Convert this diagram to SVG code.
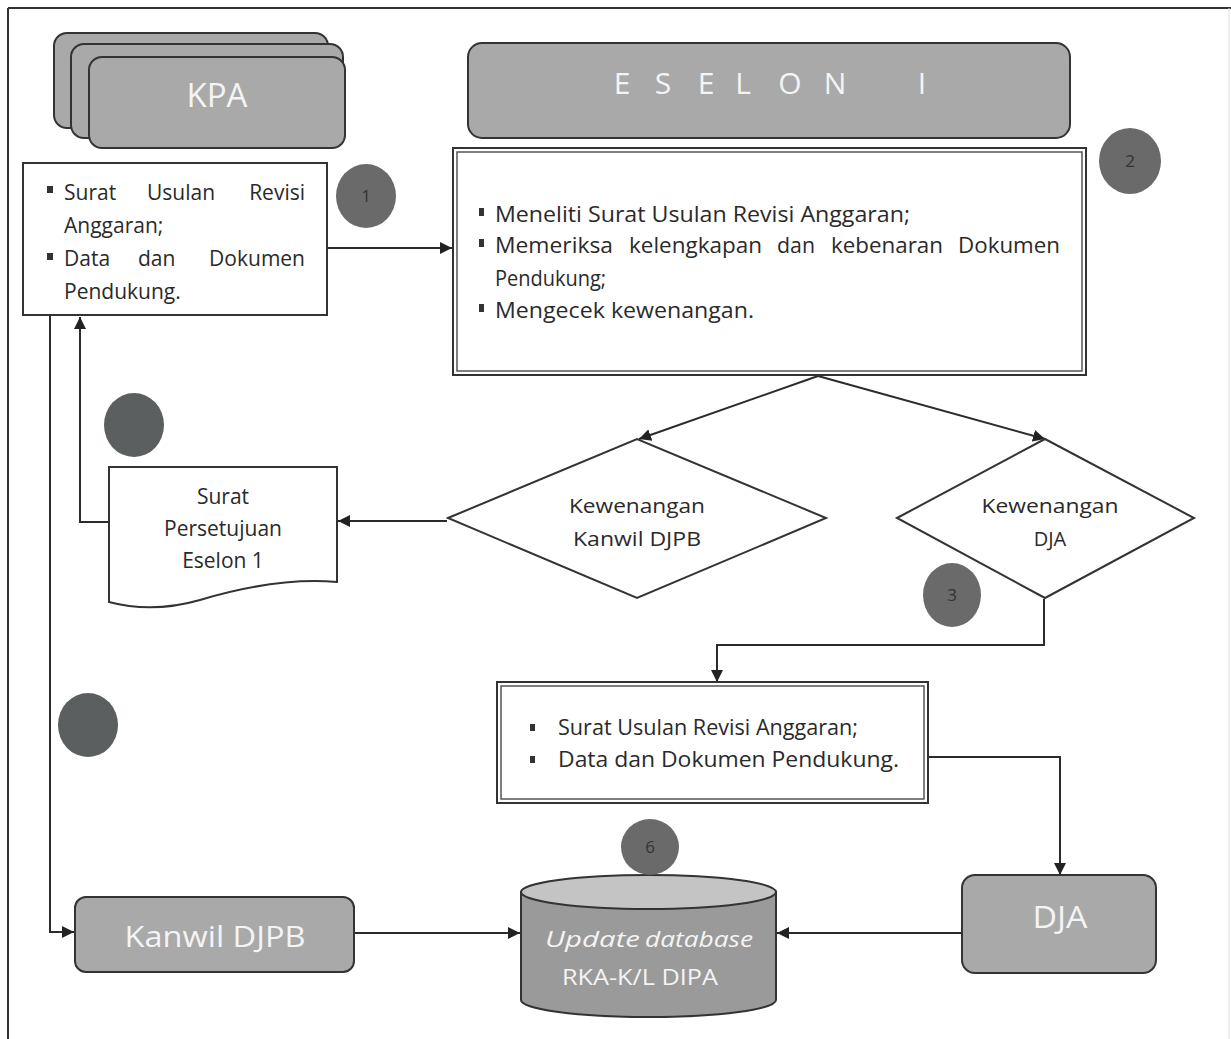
<svg xmlns="http://www.w3.org/2000/svg" width="1231" height="1039" viewBox="0 0 1231 1039">
<style>
.ln{fill:none;stroke:#2b2b2b;stroke-width:2}
.box{fill:#fff;stroke:#333;stroke-width:2}
.gray{fill:#a9a9a9;stroke:#333;stroke-width:2}
.t{font-family:"Open Sans","Liberation Sans",sans-serif;fill:#2a2a2a}
.w{font-family:"Open Sans","Liberation Sans",sans-serif;fill:#f4f4f4}
.badge{fill:#6a6a6a}
.dark{fill:#5b5f5f}
.bt{font-family:"Open Sans","Liberation Sans",sans-serif;fill:#333;font-size:17px;text-anchor:middle}
.bul{fill:#333}
</style>
<defs>
<marker id="ah" viewBox="0 0 10 10" refX="10" refY="5" markerWidth="12" markerHeight="12" markerUnits="userSpaceOnUse" orient="auto">
<path d="M0,0 L10,5 L0,10 Z" fill="#222"/>
</marker>
</defs>
<rect width="1231" height="1039" fill="#fff"/>
<g id="frame">
<line x1="8" y1="8" x2="1231" y2="8" stroke="#333" stroke-width="2"/>
<line x1="8" y1="8" x2="8" y2="1039" stroke="#333" stroke-width="2"/>
<line x1="1229" y1="8" x2="1229" y2="1039" stroke="#ddd" stroke-width="1"/>
</g>
<g id="connectors">
<line class="ln" x1="327" y1="248" x2="452" y2="248" marker-end="url(#ah)"/>
<line class="ln" x1="818" y1="376" x2="639" y2="439" marker-end="url(#ah)"/>
<line class="ln" x1="818" y1="376" x2="1045" y2="439" marker-end="url(#ah)"/>
<line class="ln" x1="447" y1="521" x2="338" y2="521" marker-end="url(#ah)"/>
<polyline class="ln" points="109,522 80,522 80,317" marker-end="url(#ah)"/>
<polyline class="ln" points="50,316 50,932 74,932" marker-end="url(#ah)"/>
<polyline class="ln" points="1044,599 1044,645 717,645 717,682" marker-end="url(#ah)"/>
<polyline class="ln" points="928,757 1060,757 1060,875" marker-end="url(#ah)"/>
<line class="ln" x1="354" y1="933" x2="520" y2="933" marker-end="url(#ah)"/>
<line class="ln" x1="962" y1="933" x2="777" y2="933" marker-end="url(#ah)"/>
</g>
<g id="kpa">
<rect class="gray" x="54" y="33" width="274" height="95" rx="13"/>
<rect class="gray" x="71" y="44" width="272" height="94" rx="13"/>
<rect class="gray" x="89" y="57" width="256" height="91" rx="13"/>
<text class="w" x="217" y="107" font-size="33" text-anchor="middle">KPA</text>
</g>
<g id="eselon">
<rect class="gray" x="468" y="43" width="602" height="95" rx="14"/>
<g class="w" font-size="30" text-anchor="middle" fill="#ececec">
<text x="622" y="94">E</text><text x="663" y="94">S</text><text x="706" y="94">E</text><text x="743" y="94">L</text><text x="790" y="94">O</text><text x="835" y="94">N</text><text x="922" y="94">I</text>
</g>
</g>
<g id="box1">
<rect class="box" x="23" y="163" width="304" height="152"/>
<rect class="bul" x="47" y="186" width="6" height="7"/>
<rect class="bul" x="47" y="253" width="6" height="7"/>
<g class="t" font-size="21">
<text x="64" y="200">Surat</text><text x="147" y="200">Usulan</text><text x="305" y="200" text-anchor="end">Revisi</text>
<text x="64" y="233">Anggaran;</text>
<text x="64" y="266">Data</text><text x="138" y="266">dan</text><text x="305" y="266" text-anchor="end">Dokumen</text>
<text x="64" y="299">Pendukung.</text>
</g>
</g>
<g id="badge1">
<ellipse class="badge" cx="366" cy="196" rx="30" ry="32"/>
<text class="bt" x="366" y="202">1</text>
</g>
<g id="box2">
<rect class="box" x="453" y="148" width="633" height="227"/>
<rect fill="none" stroke="#555" stroke-width="1.5" x="457" y="152" width="625" height="219"/>
<rect class="bul" x="479" y="208" width="5" height="8"/>
<rect class="bul" x="479" y="239" width="5" height="8"/>
<rect class="bul" x="479" y="304" width="5" height="8"/>
<g class="t" font-size="21">
<text x="495" y="222" textLength="415" lengthAdjust="spacingAndGlyphs">Meneliti Surat Usulan Revisi Anggaran;</text>
<text x="495" y="253" textLength="118" lengthAdjust="spacingAndGlyphs">Memeriksa</text>
<text x="629" y="253" textLength="133" lengthAdjust="spacingAndGlyphs">kelengkapan</text>
<text x="777" y="253" textLength="38" lengthAdjust="spacingAndGlyphs">dan</text>
<text x="831" y="253" textLength="112" lengthAdjust="spacingAndGlyphs">kebenaran</text>
<text x="958" y="253" textLength="102" lengthAdjust="spacingAndGlyphs">Dokumen</text>
<text x="495" y="286" textLength="111" lengthAdjust="spacingAndGlyphs">Pendukung;</text>
<text x="495" y="318" textLength="259" lengthAdjust="spacingAndGlyphs">Mengecek kewenangan.</text>
</g>
</g>
<g id="badge2">
<ellipse class="badge" cx="1130" cy="161" rx="31" ry="33"/>
<text class="bt" x="1130" y="167">2</text>
</g>
<g id="diamond-kanwil">
<polygon class="box" points="448,518 637,439 826,518 637,598"/>
<text class="t" x="637" y="513" font-size="20" text-anchor="middle" fill="#444" textLength="136" lengthAdjust="spacingAndGlyphs">Kewenangan</text>
<text class="t" x="637" y="546" font-size="20" text-anchor="middle" fill="#444" textLength="128" lengthAdjust="spacingAndGlyphs">Kanwil DJPB</text>
</g>
<g id="diamond-dja">
<polygon class="box" points="897,518 1045,439 1194,518 1045,598"/>
<text class="t" x="1050" y="513" font-size="20" text-anchor="middle" fill="#444" textLength="137" lengthAdjust="spacingAndGlyphs">Kewenangan</text>
<text class="t" x="1050" y="546" font-size="20" text-anchor="middle" fill="#444">DJA</text>
</g>
<g id="badge3">
<ellipse class="badge" cx="952" cy="595" rx="29" ry="32"/>
<text class="bt" x="952" y="601">3</text>
</g>
<g id="surat-persetujuan">
<path class="box" d="M109,467 H337 V582 C290,578 240,588 200,600 C165,610 135,609 109,602 Z"/>
<g class="t" font-size="21" text-anchor="middle" fill="#333">
<text x="223" y="504">Surat</text>
<text x="223" y="536">Persetujuan</text>
<text x="223" y="568">Eselon 1</text>
</g>
</g>
<g id="badge4">
<ellipse class="dark" cx="134" cy="425" rx="30" ry="32"/>
</g>
<g id="badge5">
<ellipse class="dark" cx="88" cy="725" rx="30" ry="32"/>
</g>
<g id="box3">
<rect class="box" x="497" y="682" width="431" height="121"/>
<rect fill="none" stroke="#555" stroke-width="1.5" x="501" y="686" width="423" height="113"/>
<rect class="bul" x="530" y="724" width="5" height="7"/>
<rect class="bul" x="530" y="756" width="5" height="7"/>
<g class="t" font-size="21">
<text x="558" y="735" textLength="300" lengthAdjust="spacingAndGlyphs">Surat Usulan Revisi Anggaran;</text>
<text x="558" y="767" textLength="341" lengthAdjust="spacingAndGlyphs">Data dan Dokumen Pendukung.</text>
</g>
</g>
<g id="kanwil-djpb">
<rect class="gray" x="75" y="897" width="279" height="75" rx="11" fill="#9c9c9c"/>
<text class="w" x="215" y="947" font-size="30" text-anchor="middle" textLength="181" lengthAdjust="spacingAndGlyphs">Kanwil DJPB</text>
</g>
<g id="dja">
<rect class="gray" x="962" y="875" width="194" height="98" rx="13"/>
<text class="w" x="1060" y="928" font-size="31" text-anchor="middle" textLength="55" lengthAdjust="spacingAndGlyphs">DJA</text>
</g>
<g id="database">
<path d="M521,892 V1000 A127.5,17 0 0 0 776,1000 V892 Z" fill="#9a9a9a" stroke="#333" stroke-width="2"/>
<ellipse cx="648.5" cy="892" rx="127.5" ry="17" fill="#c4c4c4" stroke="#333" stroke-width="2"/>
<text class="w" x="545" y="947" font-size="22" font-style="italic" textLength="95" lengthAdjust="spacingAndGlyphs">Update</text>
<text class="w" x="645" y="947" font-size="22" font-style="italic" textLength="108" lengthAdjust="spacingAndGlyphs">database</text>
<text class="w" x="640" y="985" font-size="22" text-anchor="middle" textLength="156" lengthAdjust="spacingAndGlyphs">RKA-K/L DIPA</text>
</g>
<g id="badge6">
<ellipse class="badge" cx="650" cy="847" rx="29" ry="28"/>
<text class="bt" x="650" y="853">6</text>
</g>
</svg>
